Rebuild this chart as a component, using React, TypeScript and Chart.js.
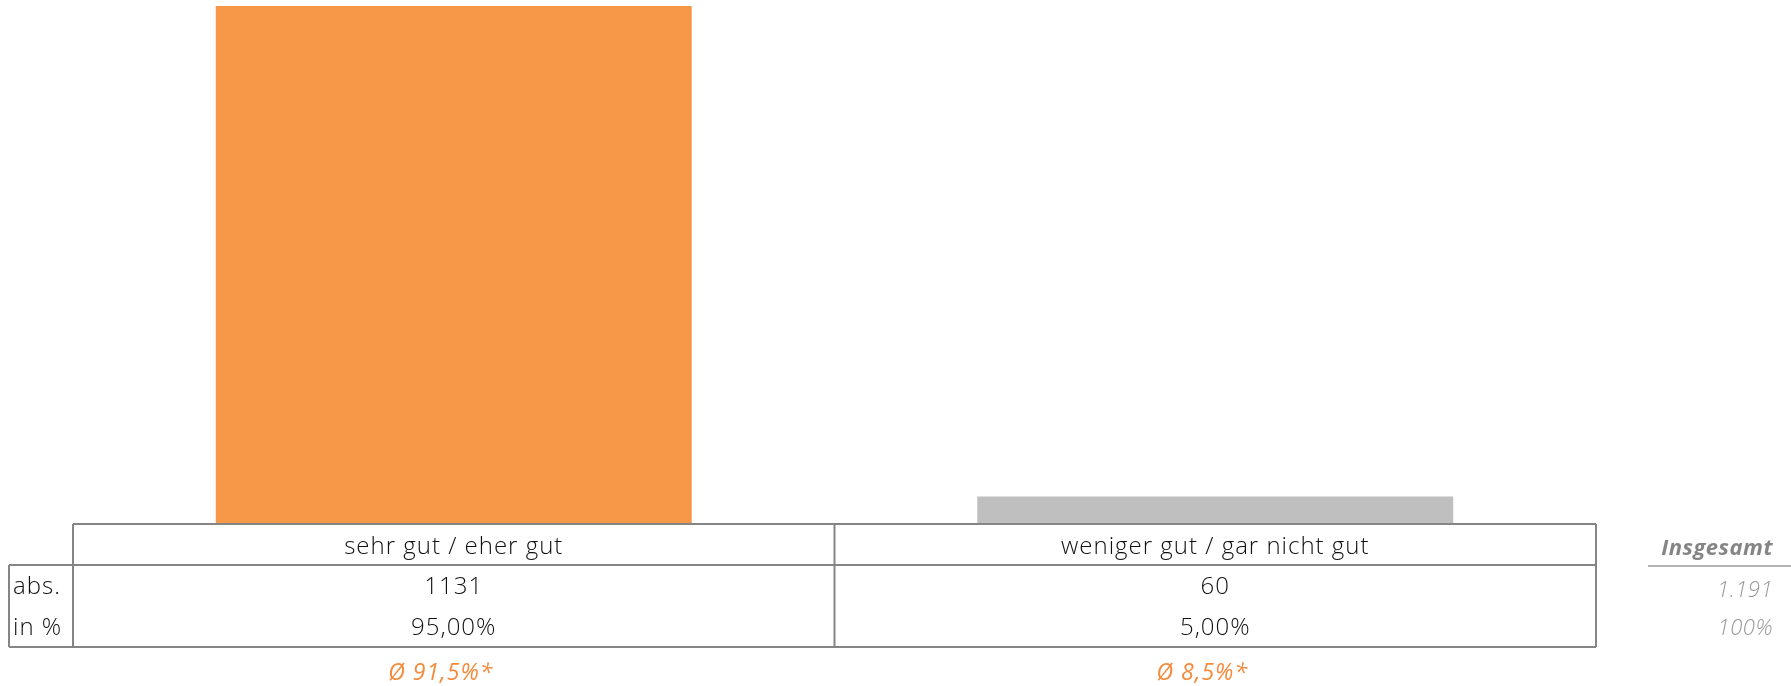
import React, { useEffect, useRef } from "react";
import { Chart, registerables } from "chart.js";

Chart.register(...registerables);

const categories = ["sehr gut / eher gut", "weniger gut / gar nicht gut"];
const absValues = [1131, 60];
const pctLabels = ["95,00%", "5,00%"];
const avgLabels = ["Ø 91,5%*", "Ø 8,5%*"];
const rowLabels = ["abs.", "in %"];
const totalTitle = "Insgesamt";
const totalAbs = "1.191";
const totalPct = "100%";
const barColors = ["#F79748", "#BFBFBF"];

const FONT = "'Open Sans', Lato, sans-serif";

const tablePlugin = {
  id: "tablePlugin",
  afterDraw(chart: any) {
    const ctx = chart.ctx as CanvasRenderingContext2D & { letterSpacing?: string };
    const xs = chart.scales.x;
    const area = chart.chartArea;
    const n = categories.length;
    const half = n > 1 ? (xs.getPixelForValue(1) - xs.getPixelForValue(0)) / 2 : (area.right - area.left) / 2;
    const left = xs.getPixelForValue(0) - half;
    const right = xs.getPixelForValue(n - 1) + half;
    const top = area.bottom;
    const headerH = 41;
    const rowH = 41;
    const headerBottom = top + headerH;
    const bottom = headerBottom + rowH * 2;
    const labelLeft = 9;

    ctx.save();
    ctx.strokeStyle = "#858585";
    ctx.lineWidth = 2;
    const line = (x1: number, y1: number, x2: number, y2: number) => {
      ctx.beginPath();
      ctx.moveTo(x1, y1);
      ctx.lineTo(x2, y2);
      ctx.stroke();
    };
    line(left, top, right, top);
    line(labelLeft, headerBottom, right, headerBottom);
    line(labelLeft, bottom, right, bottom);
    line(labelLeft, headerBottom, labelLeft, bottom);
    for (let i = 0; i <= n; i++) {
      const x = left + i * half * 2;
      line(x, top, x, bottom);
    }

    ctx.letterSpacing = "1px";
    ctx.textBaseline = "middle";
    ctx.textAlign = "center";
    ctx.fillStyle = "#111111";
    ctx.font = `300 24px ${FONT}`;
    for (let i = 0; i < n; i++) {
      const cx = xs.getPixelForValue(i);
      ctx.fillText(categories[i], cx, top + headerH / 2 + 3);
      ctx.fillText(String(absValues[i]), cx, headerBottom + rowH / 2 + 2);
      ctx.fillText(pctLabels[i], cx, headerBottom + rowH * 1.5 + 2);
    }
    ctx.textAlign = "left";
    ctx.fillText(rowLabels[0], labelLeft + 4, headerBottom + rowH / 2 + 2);
    ctx.fillText(rowLabels[1], labelLeft + 4, headerBottom + rowH * 1.5 + 2);

    ctx.textAlign = "center";
    ctx.fillStyle = "#F58A3C";
    ctx.font = `italic 400 23px ${FONT}`;
    for (let i = 0; i < n; i++) {
      ctx.fillText(avgLabels[i], xs.getPixelForValue(i) - 13, bottom + 26);
    }

    const totRight = 1773;
    ctx.textAlign = "right";
    ctx.fillStyle = "#858585";
    ctx.letterSpacing = "0.5px";
    ctx.font = `italic 700 22px ${FONT}`;
    ctx.fillText(totalTitle, totRight, top + headerH / 2 + 4);
    ctx.strokeStyle = "#9a9a9a";
    ctx.lineWidth = 1.5;
    line(1648, headerBottom + 1, 1791, headerBottom + 1);
    ctx.fillStyle = "#999999";
    ctx.font = `italic 300 22px ${FONT}`;
    ctx.fillText(totalAbs, totRight, headerBottom + rowH / 2 + 5);
    ctx.fillText(totalPct, totRight, headerBottom + rowH * 1.5 + 2);
    ctx.restore();
  },
};

export default function App() {
  const ref = useRef<HTMLCanvasElement | null>(null);
  useEffect(() => {
    if (!ref.current) return;
    const chart = new Chart(ref.current, {
      type: "bar",
      data: {
        labels: categories,
        datasets: [
          {
            data: absValues,
            backgroundColor: barColors,
            borderWidth: 0,
            barPercentage: 0.625,
            categoryPercentage: 1,
          },
        ],
      },
      options: {
        animation: false,
        responsive: false,
        maintainAspectRatio: false,
        layout: { padding: { left: 73, right: 195, top: 6, bottom: 162 } },
        plugins: { legend: { display: false }, tooltip: { enabled: false } },
        scales: {
          x: { display: false, offset: true },
          y: { display: false, min: 0, max: 1131, beginAtZero: true },
        },
      },
      plugins: [tablePlugin],
    });
    return () => chart.destroy();
  }, []);
  return (
    <div style={{ position: "fixed", left: 0, top: 0, width: 1791, height: 686, background: "#fff" }}>
      <canvas ref={ref} width={1791} height={686} style={{ width: 1791, height: 686, display: "block" }} />
    </div>
  );
}
